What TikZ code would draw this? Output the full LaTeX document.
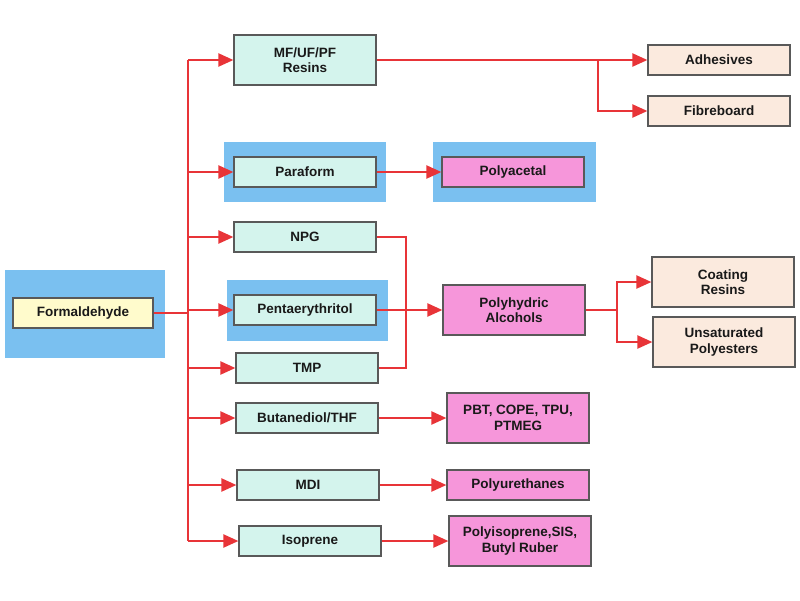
\documentclass[tikz,border=0pt]{standalone}
\usepackage{fontspec}
\setmainfont{Liberation Sans}
\usetikzlibrary{arrows.meta}

\definecolor{boxteal}{RGB}{212,244,237}
\definecolor{boxpink}{RGB}{246,150,218}
\definecolor{boxpeach}{RGB}{251,234,222}
\definecolor{boxyellow}{RGB}{255,251,204}
\definecolor{bgblue}{RGB}{122,192,240}
\definecolor{linkred}{RGB}{232,52,56}

\begin{document}
\begin{tikzpicture}[x=1pt,y=-1pt,->,>={Triangle[length=15pt,width=13pt]},line width=2.2pt,draw=linkred]
\tikzstyle{every node}=[font=\fontsize{13.5}{15.5}\selectfont\bfseries,text=black!90]
\tikzstyle{base}=[draw=black!65,line width=1.2pt,minimum width=142pt,minimum height=30pt,inner sep=2pt,align=center]
\tikzstyle{raw}=[base,fill=boxteal]
\tikzstyle{prod}=[base,fill=boxpink]
\tikzstyle{use}=[base,fill=boxpeach]
\tikzstyle{halo}=[fill=bgblue,draw=none,inner sep=0pt]
\tikzstyle{two}=[minimum height=50pt]

\useasboundingbox (0,0) rectangle (800,600);

% blue highlights
\node[halo,minimum width=160pt,minimum height=88pt] (formhalo) at (85,314) {};
\node[halo,minimum width=162pt,minimum height=60pt] (parahalo) at (305,172) {};
\node[halo,minimum width=163pt,minimum height=60pt] (acetalhalo) at (514,172) {};
\node[halo,minimum width=161pt,minimum height=61pt] (pentahalo) at (307,310) {};

% boxes
\node[base,fill=boxyellow,minimum width=140pt] (form) at (83,313) {Formaldehyde};
\node[raw,two] (resin) at (305,60) {MF/UF/PF\\Resins};
\node[raw] (para) at (305,172) {Paraform};
\node[raw] (npg) at (305,237) {NPG};
\node[raw] (penta) at (305,310) {Pentaerythritol};
\node[raw] (tmp) at (307,368) {TMP};
\node[raw] (butane) at (307,418) {Butanediol/THF};
\node[raw] (mdi) at (308,485) {MDI};
\node[raw] (iso) at (310,541) {Isoprene};

\node[prod] (acetal) at (513,172) {Polyacetal};
\node[prod,two] (polyol) at (514,310) {Polyhydric\\Alcohols};
\node[prod,two] (pbt) at (518,418) {PBT, COPE, TPU,\\PTMEG};
\node[prod] (pu) at (518,485) {Polyurethanes};
\node[prod,two] (pip) at (520,541) {Polyisoprene,SIS,\\Butyl Ruber};

\node[use] (adh) at (719,60) {Adhesives};
\node[use] (fibre) at (719,111) {Fibreboard};
\node[use,two] (coat) at (723,282) {Coating\\Resins};
\node[use,two] (unsat) at (724,342) {Unsaturated\\Polyesters};

% junctions
\coordinate (trunktop) at (188,60);
\coordinate (trunkbot) at (188,541);
\coordinate (resinsplit) at (598,60);
\coordinate (alcjoin) at (406,310);
\coordinate (polysplit) at (617,310);

% links
\draw[-] (trunktop) -- (trunkbot);
\draw[-] (form) -- (form -| trunktop);
\foreach \n in {resin,para,npg,penta,tmp,butane,mdi,iso}
  \draw (trunktop |- \n) -- (\n);
\draw (resin) -- (adh);
\draw (resinsplit) |- (fibre);
\draw (para) -- (acetal);
\draw[-] (npg.east) -| (alcjoin) |- (tmp.east);
\draw (penta) -- (polyol);
\draw[-] (polyol) -- (polysplit);
\draw (polysplit) |- (coat);
\draw (polysplit) |- (unsat);
\draw (butane) -- (pbt);
\draw (mdi) -- (pu);
\draw (iso) -- (pip);

\end{tikzpicture}
\end{document}
